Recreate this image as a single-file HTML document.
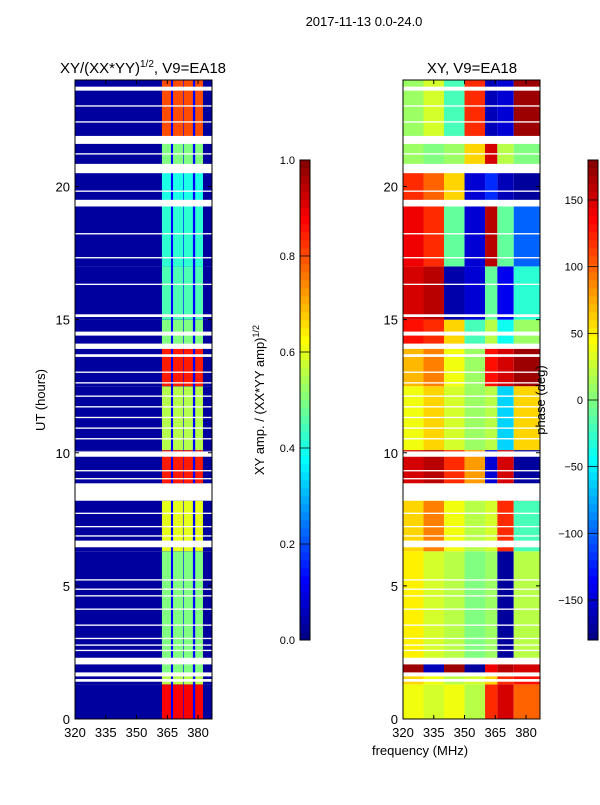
<!DOCTYPE html>
<html><head><meta charset="utf-8"><style>
body{margin:0;background:#fff;font-family:"Liberation Sans",sans-serif;}
svg text{font-family:"Liberation Sans",sans-serif;fill:#000;}
</style></head><body>
<svg id="fig" width="600" height="800" xmlns="http://www.w3.org/2000/svg">
<rect width="600" height="800" fill="#fff"/>
<text x="364" y="26" font-size="13" text-anchor="middle">2017-11-13 0.0-24.0</text>
<text x="143" y="73" font-size="15" text-anchor="middle">XY/(XX*YY)<tspan dy="-6" font-size="10">1/2</tspan><tspan dy="6">, V9=EA18</tspan></text>
<text x="472" y="73" font-size="15" text-anchor="middle">XY, V9=EA18</text>
<g id="left"></g>
<g id="right"></g>
<g id="cb1"></g>
<g id="cb2"></g>
<g id="axes"></g>
<text transform="translate(45,400) rotate(-90)" font-size="13" text-anchor="middle">UT (hours)</text>
<text transform="translate(264,400) rotate(-90)" font-size="13" text-anchor="middle">XY amp. / (XX*YY amp)<tspan dy="-5" font-size="9">1/2</tspan></text>
<text transform="translate(545,400) rotate(-90)" font-size="13" text-anchor="middle">phase (deg)</text>
<text x="420" y="755" font-size="13" text-anchor="middle">frequency (MHz)</text>
</svg>
<script>
const bandStart=[0,1.3,1.7,2.1,6.3,8.2,8.85,10.1,12.5,14.0,15.0,17.0,19.3,20.8,21.7];
const bandEnd  =[1.3,1.7,2.1,6.3,8.2,8.85,10.1,12.5,14.0,15.0,17.0,19.3,20.8,21.7,24.0];
const ampStripe=[0.88,0.55,0.5,0.5,0.6,0.6,0.85,0.55,0.85,0.5,0.45,0.42,0.4,0.5,0.8];
const phase=[
[40,30,40,20,120,150,100],
[60,40,20,30,60,120,130],
[170,-160,170,-170,140,160,150],
[50,30,20,0,10,-170,20],
[60,90,40,20,30,120,-20],
[60,40,30,20,20,130,130],
[150,160,120,80,-150,150,-170],
[40,60,30,10,20,-60,60],
[70,90,40,10,130,150,170],
[130,120,60,-20,20,-40,10],
[150,160,-165,-150,-10,-140,-30],
[140,120,-10,-150,160,-10,-100],
[120,100,60,-150,-120,-160,-170],
[10,0,10,60,150,20,0],
[10,30,-20,120,-160,-150,170]];
const phaseEdges=[320,330,340,350,360,366,374,386.8];
const stripeEdges=[[362.4,366.8],[367.8,372.7],[373,377.5],[378.6,382.4]];
const flagStart=[1.4,1.6,2.05,2.55,2.75,3.0,3.5,4.1,4.6,4.85,5.2,6.45,6.85,7.2,7.7,8.2,9.0,9.3,9.85,10.5,10.9,11.3,11.7,12.1,12.6,13.0,13.6,13.9,14.4,15.1,16.3,17.3,18.2,19.25,19.8,20.5,21.2,21.6,22.4,23.0,23.6];
const flagEnd  =[1.5,1.75,2.3,2.6,2.8,3.05,3.55,4.15,4.65,4.9,5.25,6.7,6.9,7.25,7.75,8.85,9.05,9.35,10.05,10.55,10.95,11.35,11.75,12.15,12.65,13.05,13.7,14.1,14.55,15.2,16.35,17.35,18.25,19.5,19.85,20.85,21.25,21.9,22.45,23.05,23.75];
const xTicks=[320,335,350,365,380];
const yTicks=[0,5,10,15,20];
const ampTicks=[0,0.2,0.4,0.6,0.8,1.0];
const phTicks=[-150,-100,-50,0,50,100,150];

const NS="http://www.w3.org/2000/svg";
function jet(v){v=Math.max(0,Math.min(1,v));
 const r=Math.max(0,Math.min(1,1.5-Math.abs(4*v-3))),g=Math.max(0,Math.min(1,1.5-Math.abs(4*v-2))),b=Math.max(0,Math.min(1,1.5-Math.abs(4*v-1)));
 return `rgb(${Math.round(r*255)},${Math.round(g*255)},${Math.round(b*255)})`;}
function el(tag,at,parent){const e=document.createElementNS(NS,tag);for(const k in at)e.setAttribute(k,at[k]);parent.appendChild(e);return e;}
const FMIN=320,FMAX=386.8,TOP=80,BOT=719;
function yS(t){return BOT-(t/24)*(BOT-TOP);}
function xS(f,x0){return x0+(f-FMIN)/(FMAX-FMIN)*137;}
const panels=[[document.getElementById('left'),75],[document.getElementById('right'),403]];
const L=panels[0][0],R=panels[1][0];
for(let i=0;i<bandStart.length;i++){
 const y1=yS(bandEnd[i]),h=yS(bandStart[i])-y1;
 let r=el('rect',{x:75,y:y1,width:137,height:h,fill:jet(0.03)},L);
 
 
 r=el('rect',{x:xS(362.4,75),y:y1,width:xS(382.4,75)-xS(362.4,75),height:h,fill:jet(0.13)},L);
 
 
 for(const s of stripeEdges){
  r=el('rect',{x:xS(s[0],75),y:y1,width:xS(s[1],75)-xS(s[0],75),height:h,fill:jet(ampStripe[i])},L);
  
  
 }
 for(let j=0;j<phase[i].length;j++){
  const xa=xS(phaseEdges[j],403),xb=xS(phaseEdges[j+1],403);
  r=el('rect',{x:xa,y:y1,width:xb-xa,height:h,fill:jet((phase[i][j]+180)/360)},R);
  
  
 }
}
for(const [g,x0] of panels){
 for(let k=0;k<flagStart.length;k++){
  const y1=yS(flagEnd[k]);
  const r=el('rect',{x:x0,y:y1,width:137,height:yS(flagStart[k])-y1,fill:'#fff'},g);
  
  
 }
 const ax=document.getElementById('axes');
 const fr=el('rect',{x:x0,y:TOP,width:137,height:BOT-TOP,fill:'none',stroke:'#000','stroke-width':1},ax);
 
 
 for(const t of xTicks){const x=xS(t,x0);
  el('line',{x1:x,x2:x,y1:BOT,y2:BOT-4,stroke:'#000'},ax);el('line',{x1:x,x2:x,y1:TOP,y2:TOP+4,stroke:'#000'},ax);
  const tx=el('text',{x:x,y:BOT+18,'font-size':13,'text-anchor':'middle'},ax);tx.textContent=t;
  
  }
 for(const t of yTicks){const y=yS(t);
  el('line',{x1:x0,x2:x0+4,y1:y,y2:y,stroke:'#000'},ax);el('line',{x1:x0+133,x2:x0+137,y1:y,y2:y,stroke:'#000'},ax);
  const tx=el('text',{x:x0-5,y:y+5,'font-size':13,'text-anchor':'end'},ax);tx.textContent=t;
  
  }
}
function colorbar(g,x0,vmin,vmax,ticks,fmt){
 const n=60;for(let i=0;i<n;i++){const y=640-(i+1)*8;
  const r=el('rect',{x:x0,y:y,width:10,height:8.5,fill:jet((i+0.5)/n)},g);
  
  }
 el('rect',{x:x0,y:160,width:10,height:480,fill:'none',stroke:'#000'},g);
 for(const t of ticks){const y=640-(t-vmin)/(vmax-vmin)*480;
  el('line',{x1:x0,x2:x0+10,y1:y,y2:y,stroke:'#000','stroke-width':0.8},g);
  const tx=el('text',{x:x0-5,y:y+4,'font-size':11,'text-anchor':'end'},g);tx.textContent=fmt(t);
  
  }
}
colorbar(document.getElementById('cb1'),300,0,1,ampTicks,t=>t.toFixed(1));
colorbar(document.getElementById('cb2'),588,-180,180,phTicks,t=>t<0?'\u2212'+(-t):String(t));
</script>
</body></html>
